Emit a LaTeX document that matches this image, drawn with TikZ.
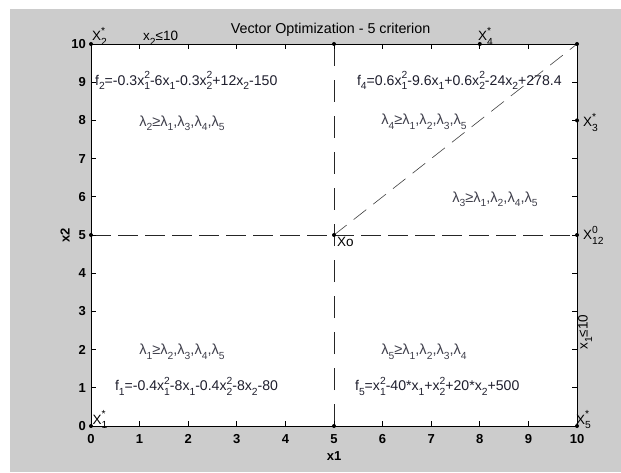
\documentclass[tikz,border=0pt]{standalone}
\usepackage{fontspec}
\setmainfont{Liberation Sans}
\definecolor{figgray}{HTML}{CCCCCC}
\definecolor{txtcol}{RGB}{30,30,45}
\newcommand\mydn[1]{\raisebox{-4.5pt}{\fontsize{10.3}{10}\selectfont #1}}
\newcommand\myud[2]{\makebox[0pt][l]{\raisebox{6.7pt}{\fontsize{10.3}{10}\selectfont #2}}\raisebox{-4.5pt}{\fontsize{10.3}{10}\selectfont #1}}
\tikzset{
  ticklab/.style={font=\fontsize{13}{13}\selectfont\bfseries, inner sep=0pt},
  axlab/.style={font=\fontsize{13}{13}\selectfont\bfseries, inner sep=0pt},
  ann/.style={font=\fontsize{14.1}{14}\selectfont, text=txtcol, inner sep=0pt, anchor=base west},
  lam/.style={font=\fontsize{14.6}{14}\selectfont, text=txtcol!85!white, inner sep=0pt, anchor=base west},
  ptlab/.style={font=\fontsize{13.5}{14}\selectfont, text=black, inner sep=0pt, anchor=base west},
  dashv/.style={line width=0.85pt, black!85, dash pattern=on 22pt off 14pt},
  dashh/.style={line width=0.85pt, black!85, dash pattern=on 20pt off 7pt},
  dashd/.style={line width=0.6pt, black!75, dash pattern=on 16pt off 9pt},
  dotm/.style={circle, fill=black, inner sep=0pt, minimum size=4pt}
}
\begin{document}
\begin{tikzpicture}[x=1pt,y=1pt]
\useasboundingbox (0,0) rectangle (621,472);
\fill[white] (0,0) rectangle (621,472);
\fill[figgray] (10,0) rectangle (621,463);
\begin{scope}[shift={(91,46)}, x=48.6pt, y=38.2pt]
  \fill[white] (0,0) rectangle (10,10);
  % coordinates
  \coordinate (p00) at (0,0);
  \coordinate (p50) at (5,0);
  \coordinate (pa0) at (10,0);
  \coordinate (p05) at (0,5);
  \coordinate (p55) at (5,5);
  \coordinate (pa5) at (10,5);
  \coordinate (p0a) at (0,10);
  \coordinate (p5a) at (5,10);
  \coordinate (p8a) at (8,10);
  \coordinate (paa) at (10,10);
  \coordinate (pa8) at (10,8);
  % dashed lines
  \draw[dashv] (p50) -- (p5a);
  \draw[dashh] (p05) -- (pa5);
  \draw[dashd] (p55) -- (paa);
  % axes box and ticks
  \draw[line width=0.8pt] (0,0) rectangle (10,10);
  \foreach \i in {0,...,10} {
    \draw[line width=0.8pt] (\i,0) -- ++(0,5pt);
    \draw[line width=0.8pt] (\i,10) -- ++(0,-5pt);
    \draw[line width=0.8pt] (0,\i) -- ++(5pt,0);
    \draw[line width=0.8pt] (10,\i) -- ++(-5pt,0);
    \node[ticklab, anchor=base] (tx\i) at ([yshift=-17pt]\i,0) {\i};
    \node[ticklab, anchor=east] (ty\i) at ([xshift=-5pt]0,\i) {\i};
  }
  % dots
  \foreach \p in {p00,p50,pa0,p05,p55,pa5,p0a,p5a,p8a,paa,pa8}
    \node[dotm] (d\p) at (\p) {};
  % axis labels and title
  \node[axlab] (xlab) at (5,-0.785) {x1};
  \node[axlab, rotate=90] (ylab) at (-0.535,5) {x2};
  \node[font=\fontsize{14.3}{14}\selectfont, inner sep=0pt, anchor=base] (title) at (4.93,10.28) {Vector Optimization - 5 criterion};
  % point labels
  \node[ptlab] (lx2) at (0.02,10.08) {X\myud{2}{*}};
  \node[ptlab] (lc2) at (1.07,10.08) {x\mydn{2}≤10};
  \node[ptlab] (lx4) at (7.96,10.08) {X\myud{4}{*}};
  \node[ptlab] (lx3) at (10.12,7.83) {X\myud{3}{*}};
  \node[ptlab] (lx12) at (10.12,4.87) {X\myud{12}{0}};
  \node[font=\fontsize{13.5}{14}\selectfont, inner sep=0pt, rotate=90] (lc1) at (10.17,2.46) {x\mydn{1}≤10};
  \node[ptlab] (lx1) at (0.03,0.05) {X\myud{1}{*}};
  \node[ptlab] (lx5) at (9.98,0.05) {X\myud{5}{*}};
  \node[ptlab] (lxo) at (5.06,4.69) {Xo};
  % objective functions
  \node[ann] (f2) at (0.08,8.92) {f\mydn{2}=-0.3x\myud{1}{2}-6x\mydn{1}-0.3x\myud{2}{2}+12x\mydn{2}-150};
  \node[ann] (f4) at (5.47,8.92) {f\mydn{4}=0.6x\myud{1}{2}-9.6x\mydn{1}+0.6x\myud{2}{2}-24x\mydn{2}+278.4};
  \node[ann] (f1) at (0.49,0.92) {f\mydn{1}=-0.4x\myud{1}{2}-8x\mydn{1}-0.4x\myud{2}{2}-8x\mydn{2}-80};
  \node[ann] (f5) at (5.43,0.92) {f\mydn{5}=x\myud{1}{2}-40*x\mydn{1}+x\myud{2}{2}+20*x\mydn{2}+500};
  % lambda regions
  \node[lam] (l2) at (0.99,7.85) {λ\mydn{2}≥λ\mydn{1},λ\mydn{3},λ\mydn{4},λ\mydn{5}};
  \node[lam] (l4) at (5.97,7.88) {λ\mydn{4}≥λ\mydn{1},λ\mydn{2},λ\mydn{3},λ\mydn{5}};
  \node[lam] (l3) at (7.43,5.86) {λ\mydn{3}≥λ\mydn{1},λ\mydn{2},λ\mydn{4},λ\mydn{5}};
  \node[lam] (l1) at (0.99,1.86) {λ\mydn{1}≥λ\mydn{2},λ\mydn{3},λ\mydn{4},λ\mydn{5}};
  \node[lam] (l5) at (5.97,1.86) {λ\mydn{5}≥λ\mydn{1},λ\mydn{2},λ\mydn{3},λ\mydn{4}};
\end{scope}
\end{tikzpicture}
\end{document}
